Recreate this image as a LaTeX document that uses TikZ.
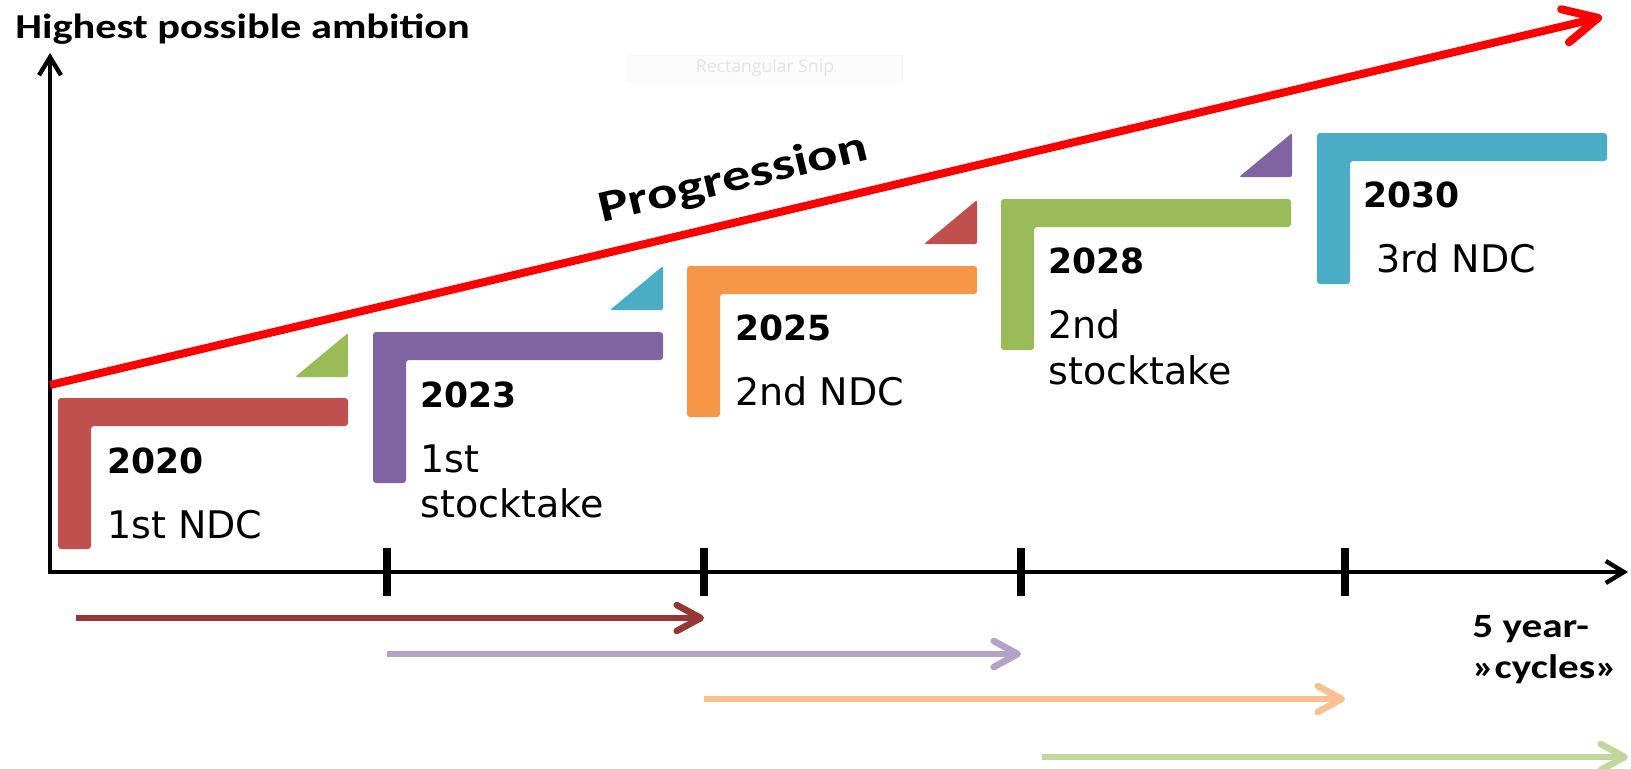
\documentclass[tikz,border=0pt]{standalone}
\usepackage{fontspec}
\usepackage{graphicx}
\usetikzlibrary{arrows.meta}
\newfontfamily\dvfont{DejaVu Sans}
\newfontfamily\calwide{Carlito}[FakeStretch=1.21]
\newfontfamily\calwider{Carlito}[FakeStretch=1.27]
\newfontfamily\snipfont{Open Sans}
\definecolor{cRed}{HTML}{C0504D}
\definecolor{cPurple}{HTML}{8064A2}
\definecolor{cOrange}{HTML}{F79646}
\definecolor{cGreen}{HTML}{9BBB59}
\definecolor{cTeal}{HTML}{4BACC6}
\definecolor{aRed}{HTML}{953735}
\definecolor{aPurple}{HTML}{B3A2C7}
\definecolor{aOrange}{HTML}{FAC090}
\definecolor{aGreen}{HTML}{C3D69B}
\definecolor{progred}{HTML}{FF0000}
\begin{document}
\begin{tikzpicture}[x=0.5pt,y=-0.5pt,
  yearlbl/.style={anchor=base west,inner sep=0pt,font=\dvfont\bfseries\fontsize{17.3pt}{20pt}\selectfont},
  desclbl/.style={anchor=base west,inner sep=0pt,font=\dvfont\fontsize{19pt}{22pt}\selectfont},
  callbl/.style={anchor=base west,inner sep=0pt,font=\calwide\bfseries\fontsize{17.5pt}{20pt}\selectfont},
  axisline/.style={line width=2.2pt,{Straight Barb[length=9pt,width=11pt]}-{Straight Barb[length=9pt,width=11pt]}},
  tickmark/.style={line width=4pt},
  progline/.style={draw=progred,line width=4pt,-{Straight Barb[length=17pt,width=17pt,round]}},
  cyclearrow/.style={line width=3.3pt,-{Straight Barb[length=12pt,width=13pt,round]}},
  lbar/.style={rounded corners=1.5pt},
  tri/.style={rounded corners=1pt}
]
\useasboundingbox (0,0) rectangle (1631,768);

% faint snip-tool box
\node[draw=gray!7,fill=gray!2,minimum width=137pt,minimum height=13pt,inner sep=0pt,
  text=gray!22,font=\snipfont\fontsize{8.8pt}{10pt}\selectfont] (snip) at (765,68) {Rectangular Snip};

% axes
\coordinate (ytop) at (50,53);
\coordinate (origin) at (50,572);
\coordinate (xend) at (1628,572);
\draw[axisline] (ytop) -- (origin) -- (xend);
\foreach \tx [count=\i] in {387,704,1021,1345}
  \draw[tickmark] (\tx,548) coordinate (tk\i) -- (\tx,596);

% title
\node[callbl] (title) at (15,38) {Highest possible ambition};

% L shapes
\foreach \lx/\ly/\lc in {58/398/cRed,373/332/cPurple,687/266/cOrange,1001/199/cGreen,1317/133/cTeal}
  \fill[lbar,\lc] (\lx,\ly) -- (\lx+290,\ly) -- (\lx+290,\ly+28) -- (\lx+33,\ly+28)
     -- (\lx+33,\ly+151) -- (\lx,\ly+151) -- cycle;

% triangles
\foreach \tr/\tb/\tt/\tc in {348/377/333/cGreen,663/310/266/cTeal,977/244/200/cRed,1292/177/133/cPurple}
  \fill[tri,\tc] (\tr-53,\tb) -- (\tr,\tt) -- (\tr,\tb) -- cycle;

% progression arrow
\coordinate (p0) at (50,385);
\coordinate (p1) at (1602,17);
\draw[progline] (p0) -- (p1);
\node[anchor=base west,inner sep=0pt,rotate=13.4,font=\calwider\bfseries\fontsize{22.3pt}{24pt}\selectfont]
  (prog) at (602,223) {Progression};

% labels
\node[yearlbl] (y2020) at (107,473) {2020};
\node[desclbl] (d2020) at (107,538) {1st NDC};
\node[yearlbl] (y2023) at (420,407) {2023};
\node[desclbl] (d2023a) at (420,472) {1st};
\node[desclbl] (d2023b) at (420,517) {stocktake};
\node[yearlbl] (y2025) at (735,340) {2025};
\node[desclbl] (d2025) at (735,405) {2nd NDC};
\node[yearlbl] (y2028) at (1048,273) {2028};
\node[desclbl] (d2028a) at (1048,338) {2nd};
\node[desclbl] (d2028b) at (1048,384) {stocktake};
\node[yearlbl] (y2030) at (1363,207) {2030};
\node[desclbl] (d2030) at (1376,272) {3rd NDC};

% cycle arrows
\coordinate (c1s) at (76,618);   \coordinate (c1e) at (704,618);
\coordinate (c2s) at (387,654);  \coordinate (c2e) at (1021,654);
\coordinate (c3s) at (704,699);  \coordinate (c3e) at (1345,699);
\coordinate (c4s) at (1042,757); \coordinate (c4e) at (1628,757);
\draw[cyclearrow,aRed] (c1s) -- (c1e);
\draw[cyclearrow,aPurple] (c2s) -- (c2e);
\draw[cyclearrow,aOrange] (c3s) -- (c3e);
\draw[cyclearrow,aGreen] (c4s) -- (c4e);

\node[callbl,font=\calwide\bfseries\fontsize{17pt}{20pt}\selectfont] (cyc1) at (1472,637) {5 year-};
\node[callbl,font=\calwide\bfseries\fontsize{17pt}{20pt}\selectfont] (cyc2) at (1472,678) {»cycles»};
\end{tikzpicture}
\end{document}
